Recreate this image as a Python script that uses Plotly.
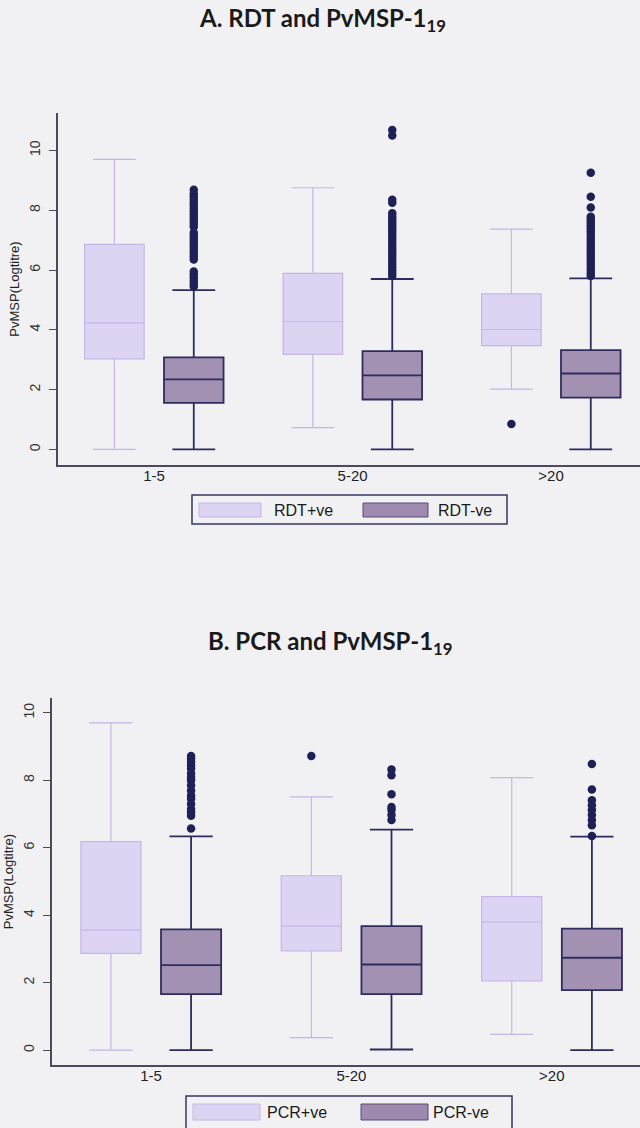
import plotly.graph_objects as go

# ---------------- data ----------------
groups = ["1-5", "5-20", ">20"]

# Panel A: RDT
rdt_pos_low = [0.00, 0.73, 2.02]
rdt_pos_q1 = [3.03, 3.18, 3.47]
rdt_pos_med = [4.23, 4.27, 4.01]
rdt_pos_q3 = [6.86, 5.89, 5.20]
rdt_pos_high = [9.70, 8.75, 7.37]
rdt_pos_out = [[], [], [0.85]]

rdt_neg_low = [0.00, 0.00, 0.00]
rdt_neg_q1 = [1.56, 1.67, 1.73]
rdt_neg_med = [2.34, 2.48, 2.54]
rdt_neg_q3 = [3.08, 3.29, 3.32]
rdt_neg_high = [5.33, 5.70, 5.72]
rdt_neg_out = [
    [5.45, 5.55, 5.65, 5.75, 5.85, 5.95, 6.35, 6.45, 6.55, 6.65, 6.75, 6.85,
     6.95, 7.05, 7.15, 7.25, 7.45, 7.55, 7.65, 7.75, 7.85, 7.95, 8.05, 8.15,
     8.25, 8.35, 8.45, 8.55, 8.68],
    [5.8, 5.9, 6.0, 6.1, 6.2, 6.3, 6.4, 6.5, 6.6, 6.7, 6.8, 6.9, 7.0, 7.1,
     7.2, 7.3, 7.4, 7.5, 7.6, 7.7, 7.8, 7.9, 8.25, 8.35, 10.5, 10.68],
    [5.8, 5.9, 6.0, 6.1, 6.2, 6.3, 6.4, 6.5, 6.6, 6.7, 6.8, 6.9, 7.0, 7.1,
     7.2, 7.3, 7.4, 7.5, 7.6, 7.7, 7.78, 8.09, 8.45, 9.25],
]

# Panel B: PCR
pcr_pos_low = [0.00, 0.37, 0.47]
pcr_pos_q1 = [2.87, 2.94, 2.05]
pcr_pos_med = [3.56, 3.68, 3.80]
pcr_pos_q3 = [6.18, 5.17, 4.55]
pcr_pos_high = [9.70, 7.51, 8.08]
pcr_pos_out = [[], [8.72], []]

pcr_neg_low = [0.00, 0.02, 0.00]
pcr_neg_q1 = [1.66, 1.66, 1.78]
pcr_neg_med = [2.52, 2.54, 2.74]
pcr_neg_q3 = [3.58, 3.68, 3.60]
pcr_neg_high = [6.34, 6.54, 6.33]
pcr_neg_out = [
    [6.57, 6.95, 7.05, 7.15, 7.3, 7.45, 7.55, 7.7, 7.85, 8.0, 8.1, 8.2, 8.35,
     8.45, 8.55, 8.65, 8.72],
    [6.82, 6.97, 7.12, 7.21, 7.59, 8.15, 8.32],
    [6.35, 6.67, 6.82, 6.97, 7.12, 7.26, 7.41, 7.73, 8.48],
]

y_ticks = [0, 2, 4, 6, 8, 10]

# ---------------- style ----------------
BG = "#f1f1f4"
POS_FILL = "#ddd4f4"
POS_LINE = "#c6b5e6"
NEG_FILL = "#a291b3"
NEG_LINE = "#2e2c5c"
OUT_COL = "#1e2156"
OFFSET = 0.2
BOXW = 0.3
SANS = "Arial, Liberation Sans, sans-serif"

fig = go.Figure()


def add_panel(xa, ya, pos, neg, pos_out, neg_out):
    xs_pos = [i - OFFSET for i in range(len(groups))]
    xs_neg = [i + OFFSET for i in range(len(groups))]
    for xs, st, fill, line, lw in [
        (xs_pos, pos, POS_FILL, POS_LINE, 1.2),
        (xs_neg, neg, NEG_FILL, NEG_LINE, 1.8),
    ]:
        fig.add_trace(go.Box(
            x=xs, lowerfence=st[0], q1=st[1], median=st[2], q3=st[3],
            upperfence=st[4], width=BOXW, whiskerwidth=0.72,
            fillcolor=fill, line=dict(color=line, width=lw),
            boxpoints=False, showlegend=False, xaxis=xa, yaxis=ya,
        ))
    for xs, outs in [(xs_pos, pos_out), (xs_neg, neg_out)]:
        px, py = [], []
        for x, vals in zip(xs, outs):
            px += [x] * len(vals)
            py += vals
        fig.add_trace(go.Scatter(
            x=px, y=py, mode="markers",
            marker=dict(color=OUT_COL, size=8.5, line=dict(width=0)),
            showlegend=False, xaxis=xa, yaxis=ya,
        ))


add_panel("x", "y",
          [rdt_pos_low, rdt_pos_q1, rdt_pos_med, rdt_pos_q3, rdt_pos_high],
          [rdt_neg_low, rdt_neg_q1, rdt_neg_med, rdt_neg_q3, rdt_neg_high],
          rdt_pos_out, rdt_neg_out)
add_panel("x2", "y2",
          [pcr_pos_low, pcr_pos_q1, pcr_pos_med, pcr_pos_q3, pcr_pos_high],
          [pcr_neg_low, pcr_neg_q1, pcr_neg_med, pcr_neg_q3, pcr_neg_high],
          pcr_pos_out, pcr_neg_out)

H = 1128.0
W = 640.0

axis_common = dict(showgrid=False, zeroline=False, showline=True,
                   linecolor="#4a4a5a", linewidth=1.5, automargin=False)
xfont = dict(family=SANS, size=15, color="#222")
yfont = dict(family=SANS, size=14, color="#333")
ytitle = dict(text="PvMSP(Logtitre)",
              font=dict(family=SANS, size=13, color="#222"),
              standoff=4)

yaxis_common = dict(tickvals=y_ticks, ticks="outside", ticklen=7,
                    tickcolor="#4a4a5a", tickangle=-90, tickfont=yfont,
                    ticklabelstandoff=4, title=ytitle, **axis_common)
xaxis_common = dict(tickvals=list(range(len(groups))), ticktext=groups,
                    ticks="", tickfont=xfont, ticklabelstandoff=-4,
                    **axis_common)

fig.update_layout(
    width=640, height=1128,
    margin=dict(l=0, r=0, t=0, b=0, autoexpand=False),
    paper_bgcolor=BG, plot_bgcolor=BG,
    showlegend=False,
    xaxis=dict(domain=[58 / W, 1], range=[-0.484, 2.448], anchor="y",
               **xaxis_common),
    yaxis=dict(domain=[1 - 465 / H, 1 - 113 / H], range=[-0.52, 11.25],
               anchor="x", **yaxis_common),
    xaxis2=dict(domain=[52 / W, 1], range=[-0.494, 2.44], anchor="y2",
                **xaxis_common),
    yaxis2=dict(domain=[1 - 1065 / H, 1 - 698 / H], range=[-0.44, 10.44],
                anchor="x2", **yaxis_common),
)

# titles
title_font = dict(family="Lato", size=24, color="#1a1a1a")
fig.add_annotation(text="<b>A. RDT and PvMSP-1<sub>19</sub></b>",
                   x=322 / W, y=1 - 20 / H, xref="paper", yref="paper",
                   xanchor="center", yanchor="middle",
                   showarrow=False, font=title_font)
fig.add_annotation(text="<b>B. PCR and PvMSP-1<sub>19</sub></b>",
                   x=330 / W, y=1 - 642 / H, xref="paper", yref="paper",
                   xanchor="center", yanchor="middle",
                   showarrow=False, font=title_font)

# legends (drawn as boxes, swatches and labels)
leg_font = dict(family=SANS, size=16, color="#1a1a1a")


def add_legend(box, sw1, sw2, t1, t2, labels):
    x0, y0, x1, y1 = box
    fig.add_shape(type="rect", xref="paper", yref="paper",
                  x0=x0 / W, x1=x1 / W, y0=1 - y1 / H, y1=1 - y0 / H,
                  line=dict(color="#3a3560", width=1.5), fillcolor=BG)
    for sw, fill, line in [(sw1, POS_FILL, POS_LINE), (sw2, "#9e8aae", "#5a4a78")]:
        a, b, c, d = sw
        fig.add_shape(type="rect", xref="paper", yref="paper",
                      x0=a / W, x1=c / W, y0=1 - d / H, y1=1 - b / H,
                      line=dict(color=line, width=1), fillcolor=fill)
    for (tx, ty), lab in zip([t1, t2], labels):
        fig.add_annotation(text=lab, x=tx / W, y=1 - ty / H, xref="paper",
                           yref="paper", xanchor="left", yanchor="middle",
                           showarrow=False, font=leg_font)


add_legend((192, 495, 507, 524), (199, 503, 261, 517), (363, 503, 428, 517),
           (272, 510), (436, 510), ["RDT+ve", "RDT-ve"])
add_legend((186, 1096, 512, 1135), (193, 1104, 260, 1120), (361, 1104, 428, 1120),
           (265, 1112), (431, 1112), ["PCR+ve", "PCR-ve"])

# remove the page's default body margin so the figure fills the window
fig.write_html(
    "out.html",
    config={"displayModeBar": False},
    post_script="document.body.style.margin='0';"
                "document.body.style.background='" + BG + "';",
)
